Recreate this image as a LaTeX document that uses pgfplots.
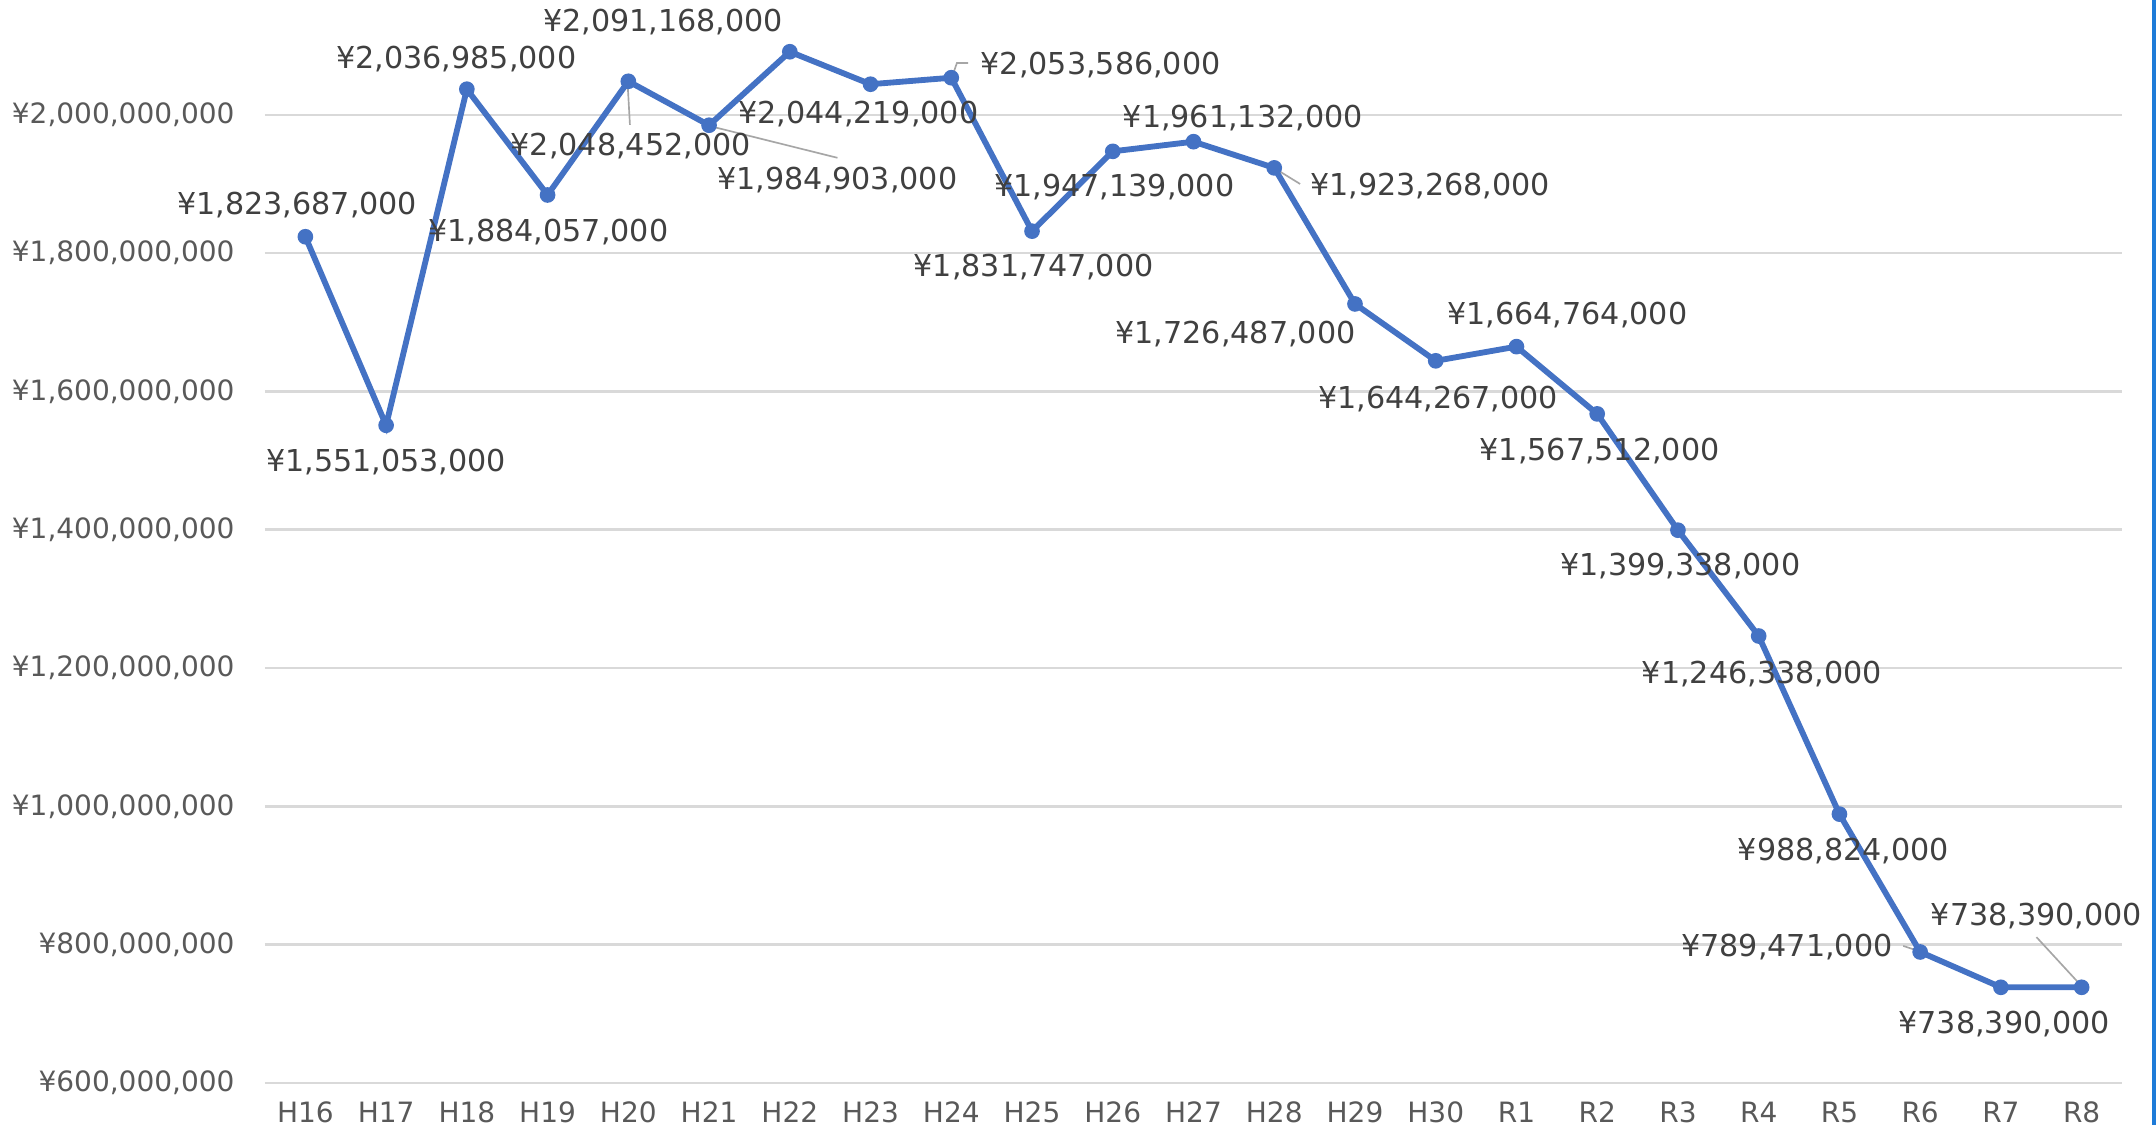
\documentclass[border=0pt]{standalone}
\usepackage{pgfplots}
\pgfplotsset{compat=1.18}
\usepackage{fontspec}
\setmainfont{DejaVu Sans}
\definecolor{lineblue}{HTML}{4472C4}
\definecolor{gridgray}{HTML}{D9D9D9}
\definecolor{ticktext}{HTML}{595959}
\definecolor{labeltext}{HTML}{404040}
\definecolor{leader}{HTML}{A6A6A6}
\definecolor{edgeblue}{HTML}{1E7BD8}
\begin{document}
\begin{tikzpicture}
\begin{axis}[
  at={(0,0)}, anchor=south west,
  scale only axis, width=557.1pt, height=324.9pt,
  xmin=-0.5, xmax=22.5, ymin=6e8, ymax=2.166e9,
  xtick={0,...,22},
  xticklabels={H16,H17,H18,H19,H20,H21,H22,H23,H24,H25,H26,H27,H28,H29,H30,R1,R2,R3,R4,R5,R6,R7,R8},
  ytick={6e8,8e8,1e9,1.2e9,1.4e9,1.6e9,1.8e9,2e9},
  yticklabels={{¥600,000,000},{¥800,000,000},{¥1,000,000,000},{¥1,200,000,000},{¥1,400,000,000},{¥1,600,000,000},{¥1,800,000,000},{¥2,000,000,000}},
  scaled y ticks=false,
  axis line style={draw=none},
  major tick length=0pt,
  ymajorgrids,
  grid style={gridgray, line width=0.75pt},
  tick label style={font=\fontsize{8.4}{10}\selectfont, text=ticktext},
  yticklabel style={xshift=-5.6pt},
  xticklabel style={yshift=-2pt, text height=6.3pt, text depth=0pt},
  clip=false,
]
\addplot[lineblue, line width=1.75pt, mark=*, mark size=2.1pt, mark options={fill=lineblue, draw=lineblue, line width=0.5pt}]
  coordinates {
  (0,1823687000) (1,1551053000) (2,2036985000) (3,1884057000) (4,2048452000)
  (5,1984903000) (6,2091168000) (7,2044219000) (8,2053586000) (9,1831747000)
  (10,1947139000) (11,1961132000) (12,1923268000) (13,1726487000) (14,1644267000)
  (15,1664764000) (16,1567512000) (17,1399338000) (18,1246338000) (19,988824000)
  (20,789471000) (21,738390000) (22,738390000)
  };
% leader lines
\draw[leader, line width=0.5pt] (axis cs:3.99,2047.7e6) -- (axis cs:4.02,1985.5e6);
\draw[leader, line width=0.5pt] (axis cs:5.0,1984e6) -- (axis cs:6.59,1937.8e6);
\draw[leader, line width=0.5pt] (axis cs:8.01,2055e6) -- (axis cs:8.07,2075e6) -- (axis cs:8.21,2075e6);
\draw[leader, line width=0.5pt] (axis cs:12.0,1923e6) -- (axis cs:12.32,1900e6);
\draw[leader, line width=0.5pt] (axis cs:19.79,798.3e6) -- (axis cs:20.0,790e6);
\draw[leader, line width=0.5pt] (axis cs:21.44,811e6) -- (axis cs:22.0,740e6);
% data labels
\begin{scope}[every node/.style={font=\fontsize{9.05}{11}\selectfont, text=labeltext, inner sep=0pt}]
\node at (axis cs:-0.1,1869.8e6) {¥1,823,687,000};
\node at (axis cs:1.0,1498e6) {¥1,551,053,000};
\node at (axis cs:1.87,2081e6) {¥2,036,985,000};
\node at (axis cs:3.01,1830.8e6) {¥1,884,057,000};
\node at (axis cs:4.03,1955e6) {¥2,048,452,000};
\node at (axis cs:6.59,1906e6) {¥1,984,903,000};
\node at (axis cs:4.43,2134.5e6) {¥2,091,168,000};
\node at (axis cs:6.85,2001e6) {¥2,044,219,000};
\node at (axis cs:9.85,2072e6) {¥2,053,586,000};
\node at (axis cs:9.02,1780e6) {¥1,831,747,000};
\node at (axis cs:10.02,1896e6) {¥1,947,139,000};
\node at (axis cs:11.61,1995.7e6) {¥1,961,132,000};
\node at (axis cs:13.93,1897e6) {¥1,923,268,000};
\node at (axis cs:11.52,1683e6) {¥1,726,487,000};
\node at (axis cs:14.03,1589e6) {¥1,644,267,000};
\node at (axis cs:15.63,1711e6) {¥1,664,764,000};
\node at (axis cs:16.03,1514e6) {¥1,567,512,000};
\node at (axis cs:17.03,1347e6) {¥1,399,338,000};
\node at (axis cs:18.04,1192e6) {¥1,246,338,000};
\node at (axis cs:19.05,935.6e6) {¥988,824,000};
\node at (axis cs:18.35,797e6) {¥789,471,000};
\node at (axis cs:21.04,685.5e6) {¥738,390,000};
\node at (axis cs:21.44,841.7e6) {¥738,390,000};
\end{scope}
\end{axis}
\fill[edgeblue] (566.1pt,-12.6pt) rectangle (567.3pt,324.9pt);
\pgfresetboundingbox
\path[use as bounding box] (-79.5pt,-12.6pt) rectangle (567.3pt,324.9pt);
\end{tikzpicture}
\end{document}
